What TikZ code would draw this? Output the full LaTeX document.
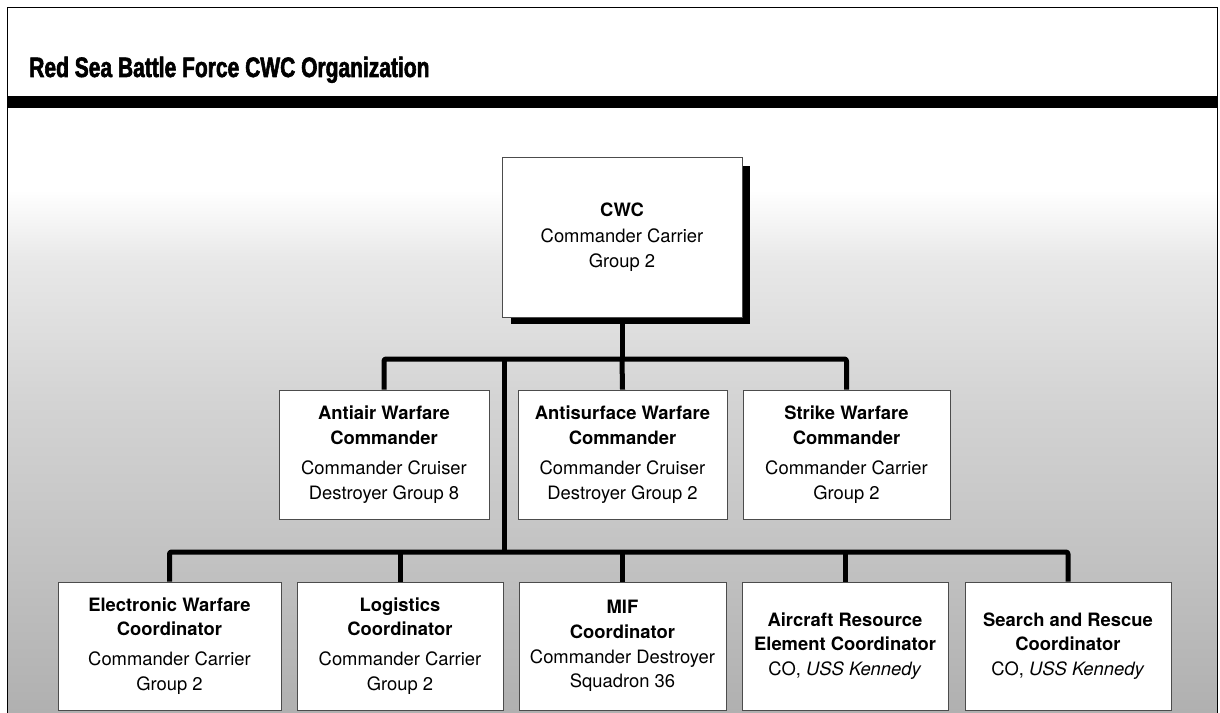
\documentclass[tikz,border=0pt]{standalone}
\usepackage{fontspec}
\setmainfont{TeX Gyre Heros}
\newfontfamily\titlefont[FakeStretch=0.75,FakeBold=2]{Liberation Sans}
\definecolor{g2}{gray}{0.91}
\definecolor{g3}{gray}{0.83}
\definecolor{g4}{gray}{0.76}
\definecolor{g5}{gray}{0.69}
\pgfdeclareverticalshading{bgshade}{100bp}{color(0bp)=(g5); color(25bp)=(g5); color(37.6bp)=(g4); color(50.9bp)=(g3); color(62.4bp)=(g2); color(68.2bp)=(white); color(100bp)=(white)}
\begin{document}
\begin{tikzpicture}[x=0.75pt,y=-0.75pt,
  orgbox/.style={draw=black!70, line width=0.6pt, fill=white, inner sep=0pt, align=center,
    font=\fontsize{13.8}{18.5}\selectfont},
  midbox/.style={orgbox, minimum height=96.75pt},
  lowbox/.style={orgbox, minimum height=96pt},
  bus/.style={line width=3.75pt, line join=round, rounded corners=1.5pt, black}]
\useasboundingbox (0,0) rectangle (1220,713);
% background
\fill[white] (0,0) rectangle (1220,713);
\shade[shading=bgshade] (8,108) rectangle (1217,713);
% frame
\draw[line width=1.1pt] (7.5,713) -- (7.5,7.5) -- (1217.5,7.5) -- (1217.5,713);
\fill[black] (7,96) rectangle (1218,108);
% title
\node[anchor=base west, inner sep=0pt, font=\titlefont\bfseries\fontsize{21}{24}\selectfont] (title) at (29,77) {Red Sea Battle Force CWC Organization};
% boxes
\node[orgbox, minimum width=180pt, minimum height=120pt] (cwc) at (622,237) {\textbf{CWC}\\[1pt]Commander Carrier\\Group 2};
\node[midbox, minimum width=157.5pt] (aaw) at (384,454.5) {\textbf{Antiair Warfare}\\\textbf{Commander}\\[4pt]Commander Cruiser\\Destroyer Group 8};
\node[midbox, minimum width=156.75pt] (asuw) at (622.5,454.5) {\textbf{Antisurface Warfare}\\\textbf{Commander}\\[4pt]Commander Cruiser\\Destroyer Group 2};
\node[midbox, minimum width=155.25pt] (stw) at (846.5,454.5) {\textbf{Strike Warfare}\\\textbf{Commander}\\[4pt]Commander Carrier\\Group 2};
\node[lowbox, minimum width=167.25pt] (ewc) at (169.5,646) {\textbf{Electronic Warfare}\\\textbf{Coordinator}\\[4pt]Commander Carrier\\Group 2};
\node[lowbox, minimum width=154.5pt] (log) at (400,646) {\textbf{Logistics}\\\textbf{Coordinator}\\[4pt]Commander Carrier\\Group 2};
\node[lowbox, minimum width=155.25pt] (mif) at (622.5,646) {\textbf{MIF}\\\textbf{Coordinator}\\Commander Destroyer\\Squadron 36};
\node[lowbox, minimum width=154.5pt] (arec) at (845,646) {\textbf{Aircraft Resource}\\\textbf{Element Coordinator}\\CO, \textit{USS Kennedy}};
\node[lowbox, minimum width=154.5pt] (sar) at (1068,646) {\textbf{Search and Rescue}\\\textbf{Coordinator}\\CO, \textit{USS Kennedy}};
% junctions
\coordinate (j1) at (622,359);
\coordinate (j2) at (504,552);
% connectors
\draw[bus] (cwc.south) -- (j1);
\draw[bus] (aaw.north) |- (j1) -| (stw.north);
\draw[bus] (j1) -- (asuw.north);
\draw[bus] (j2 |- j1) -- (j2);
\draw[bus] (ewc.north) |- (j2) -| (sar.north);
\draw[bus] (log.north) -- (log.north |- j2);
\draw[bus] (mif.north) -- (mif.north |- j2);
\draw[bus] (arec.north) -- (arec.north |- j2);
% shadow and redraw of cwc box on top
\fill[black] ([shift={(9,9)}]cwc.north west) rectangle ([shift={(8,7)}]cwc.south east);
\node[orgbox, minimum width=180pt, minimum height=120pt] at (cwc) {\textbf{CWC}\\[1pt]Commander Carrier\\Group 2};
\end{tikzpicture}
\end{document}
